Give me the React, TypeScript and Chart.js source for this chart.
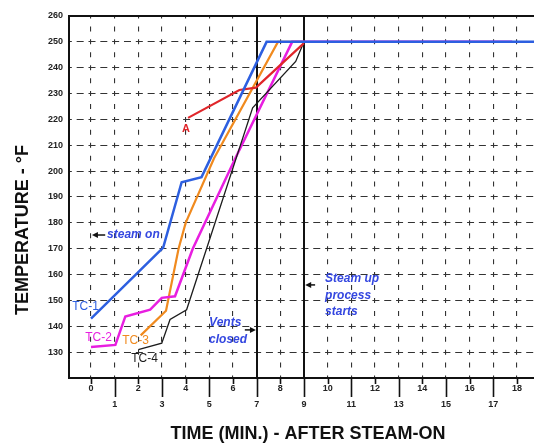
import React, { useEffect, useRef } from 'react';
import { Chart, registerables } from 'chart.js';

Chart.register(...registerables);

// ---- data ----
const xTicks = [0, 1, 2, 3, 4, 5, 6, 7, 8, 9, 10, 11, 12, 13, 14, 15, 16, 17, 18];
const yTicks = [120, 130, 140, 150, 160, 170, 180, 190, 200, 210, 220, 230, 240, 250, 260];
const boldX = [7, 9];

const tc1X = [0, 3.05, 3.83, 4.67, 7.42, 18.72];
const tc1Y = [143, 170.4, 195.7, 197.7, 250, 250];

const tc2X = [0, 1.03, 1.45, 2.5, 2.99, 3.55, 4.3, 6.1, 8.5, 17.8];
const tc2Y = [132, 132.8, 143.8, 146.4, 151, 151.6, 170, 205, 250, 250];

const tc3X = [2.1, 3.17, 3.7, 4.0, 5.2, 7.9, 9];
const tc3Y = [136.5, 146, 170, 180, 205, 250, 250];

const tc4X = [2.0, 2.99, 3.34, 4.04, 6.83, 8.65, 9.0];
const tc4Y = [131, 133.5, 142.6, 146.4, 224.5, 242.4, 250];

const aX = [4.1, 6.27, 6.97, 9.0];
const aY = [220.6, 231.4, 232.3, 249.5];

const FONT = '"Liberation Sans", Arial, Helvetica, sans-serif';
const BLUE = '#2d5fe0';
const MAGENTA = '#e81ee0';
const ORANGE = '#f08a1e';
const BLACK = '#1c1c1c';
const RED = '#e0262a';
const NOTE_BLUE = '#3447e0';

const labels = [
  { text: 'TC-1', x: -0.23, y: 147.6, color: BLUE },
  { text: 'TC-2', x: 0.32, y: 135.7, color: MAGENTA },
  { text: 'TC-3', x: 1.88, y: 134.3, color: ORANGE },
  { text: 'TC-4', x: 2.26, y: 127.3, color: BLACK },
];

const notes = [
  { lines: ['steam on'], x: 0.68, y: 175.3 },
  { lines: ['Vents', 'closed'], x: 4.99, y: 141.3 },
  { lines: ['Steam up', 'process', 'starts'], x: 9.89, y: 158.3 },
];

const arrows = [
  { x1: 0.6, x2: 0.04, y: 175.3 },
  { x1: 6.5, x2: 6.97, y: 138.6 },
  { x1: 9.47, x2: 9.05, y: 156 },
];

const pts = (xs: number[], ys: number[]) => xs.map((x, i) => ({ x, y: ys[i] }));

const overlay = {
  id: 'overlay',
  beforeDatasetsDraw(chart: any) {
    const { ctx, chartArea: a, scales } = chart;
    const x = scales.x;
    ctx.save();
    ctx.strokeStyle = '#111';
    ctx.lineWidth = 2;
    ctx.beginPath();
    ctx.moveTo(a.left - 1, a.top);
    ctx.lineTo(a.right, a.top);
    for (const v of boldX) {
      const px = Math.round(x.getPixelForValue(v));
      ctx.moveTo(px, a.top);
      ctx.lineTo(px, a.bottom);
    }
    ctx.stroke();
    ctx.restore();
  },
  afterDraw(chart: any) {
    const { ctx, chartArea: a, scales } = chart;
    const x = scales.x;
    const y = scales.y;
    ctx.save();
    // tick marks below x axis
    ctx.strokeStyle = '#111';
    ctx.lineWidth = 1.6;
    ctx.beginPath();
    for (const v of xTicks) {
      const px = Math.round(x.getPixelForValue(v)) + 0.5;
      ctx.moveTo(px, a.bottom);
      ctx.lineTo(px, a.bottom + (v % 2 ? 19 : 6));
    }
    ctx.stroke();

    // axis titles
    ctx.fillStyle = '#111';
    ctx.font = `bold 18px ${FONT}`;
    ctx.textAlign = 'center';
    ctx.textBaseline = 'middle';
    ctx.fillText('TIME (MIN.) - AFTER STEAM-ON', 308, 434);
    ctx.save();
    ctx.translate(23.5, 230);
    ctx.rotate(-Math.PI / 2);
    ctx.fillText('TEMPERATURE - °F', 0, 0);
    ctx.restore();

    // series labels
    ctx.font = `12px ${FONT}`;
    for (const l of labels) {
      ctx.fillStyle = l.color;
      ctx.fillText(l.text, x.getPixelForValue(l.x), y.getPixelForValue(l.y));
    }
    ctx.fillStyle = RED;
    ctx.font = `bold 11px ${FONT}`;
    ctx.fillText('A', x.getPixelForValue(4.01), y.getPixelForValue(216.3));

    // notes
    ctx.fillStyle = NOTE_BLUE;
    ctx.font = `italic bold 12px ${FONT}`;
    ctx.textAlign = 'left';
    for (const n of notes) {
      const px = x.getPixelForValue(n.x);
      const py = y.getPixelForValue(n.y);
      n.lines.forEach((t, i) => ctx.fillText(t, px, py + i * 16.5));
    }

    // arrows
    ctx.strokeStyle = '#111';
    ctx.fillStyle = '#111';
    ctx.lineWidth = 1.5;
    for (const ar of arrows) {
      const x1 = x.getPixelForValue(ar.x1);
      const x2 = x.getPixelForValue(ar.x2);
      const py = y.getPixelForValue(ar.y);
      const dir = x2 > x1 ? 1 : -1;
      ctx.beginPath();
      ctx.moveTo(x1, py);
      ctx.lineTo(x2 - dir * 4, py);
      ctx.stroke();
      ctx.beginPath();
      ctx.moveTo(x2, py);
      ctx.lineTo(x2 - dir * 6, py - 3);
      ctx.lineTo(x2 - dir * 6, py + 3);
      ctx.closePath();
      ctx.fill();
    }
    ctx.restore();
  },
};

export default function App() {
  const ref = useRef<HTMLCanvasElement>(null);

  useEffect(() => {
    document.body.style.margin = '0';
    const canvas = ref.current;
    if (!canvas) return;
    const mk = (label: string, data: any[], color: string, width: number) => ({
      label,
      data,
      borderColor: color,
      backgroundColor: color,
      borderWidth: width,
      pointRadius: 0,
      fill: false,
      tension: 0,
    });
    const chart = new Chart(canvas, {
      type: 'line',
      data: {
        datasets: [
          mk('TC-1', pts(tc1X, tc1Y), BLUE, 2.5),
          mk('A', pts(aX, aY), RED, 2.2),
          mk('TC-4', pts(tc4X, tc4Y), BLACK, 1.3),
          mk('TC-2', pts(tc2X, tc2Y), MAGENTA, 2.5),
          mk('TC-3', pts(tc3X, tc3Y), ORANGE, 2.2),
        ],
      },
      options: {
        responsive: false,
        animation: false,
        devicePixelRatio: 1,
        layout: { padding: { top: 16, right: 0, left: 0, bottom: 0 } },
        plugins: { legend: { display: false }, tooltip: { enabled: false } },
        scales: {
          x: {
            type: 'linear',
            min: -0.93,
            max: 18.72,
            afterBuildTicks: (s: any) => {
              s.ticks = xTicks.map((v) => ({ value: v }));
            },
            afterFit: (s: any) => {
              s.height = 66;
            },
            grid: {
              color: (c: any) =>
                c.tick && boldX.includes(c.tick.value) ? 'rgba(0,0,0,0)' : '#333',
              lineWidth: 1.1,
              drawTicks: false,
            },
            border: { display: true, color: '#111', width: 2, dash: [5, 7.93], dashOffset: 2.5 },
            ticks: {
              padding: 3,
              color: '#222',
              maxRotation: 0,
              autoSkip: false,
              font: { family: FONT, size: 9, weight: 'bold', lineHeight: 1.75 },
              callback: (v: any) => (Number(v) % 2 ? ['', String(v)] : String(v)),
            },
          },
          y: {
            type: 'linear',
            min: 120,
            max: 260,
            afterBuildTicks: (s: any) => {
              s.ticks = yTicks.map((v) => ({ value: v }));
            },
            afterFit: (s: any) => {
              s.width = 69;
            },
            grid: { color: '#333', lineWidth: 1.1, drawTicks: false },
            border: { display: true, color: '#111', width: 2, dash: [7, 4.83], dashOffset: 5.17 },
            ticks: {
              padding: 6,
              color: '#222',
              font: { family: FONT, size: 9, weight: 'bold' },
              callback: (v: any) => (Number(v) === 120 ? '' : String(v)),
            },
          },
        },
      },
      plugins: [overlay],
    } as any);
    return () => chart.destroy();
  }, []);

  return (
    <div style={{ width: 534, height: 444 }}>
      <canvas ref={ref} width={534} height={444} style={{ display: 'block' }} />
    </div>
  );
}
